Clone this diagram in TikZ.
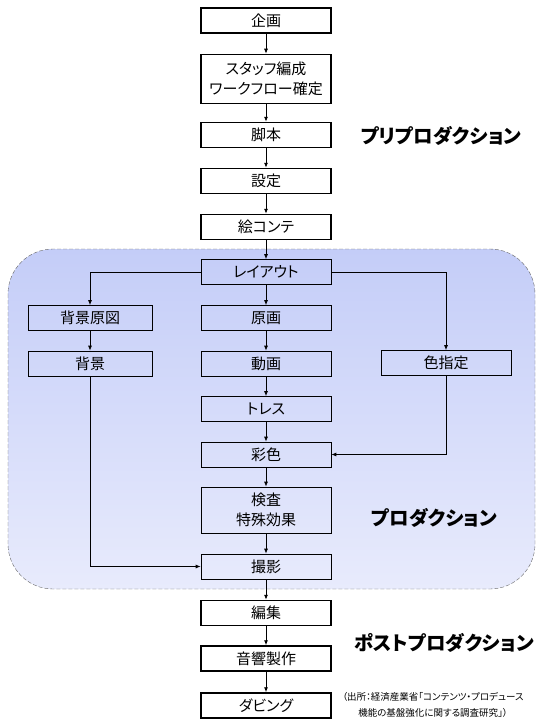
\documentclass[tikz,border=0pt]{standalone}
\usepackage[dvipsnames,svgnames]{xcolor}
\usepackage{fontspec}
\setmainfont{Noto Sans CJK JP}[RawFeature=+palt]
\usetikzlibrary{arrows.meta}
\definecolor{prodtop}{RGB}{196,205,248}
\definecolor{prodbot}{RGB}{232,235,252}
\tikzset{
  stagebox/.style={draw,line width=1.5pt,fill=white,minimum width=130pt,minimum height=25pt,
    inner sep=0pt,align=center,font=\fontsize{15}{20}\selectfont},
  prodbox/.style={stagebox,line width=0.7pt,fill=none},
  flow/.style={-{Latex[length=5pt,width=4pt]},line width=0.8pt},
  phase/.style={font=\fontsize{19.5}{22}\selectfont\bfseries}
}
\begin{document}
\begin{tikzpicture}[x=1pt,y=-1pt]
  \useasboundingbox (0,0) rectangle (546,725);
  \draw[black!60,dash pattern=on 4pt off 2pt,top color=prodtop,bottom color=prodbot,rounded corners=45pt]
    (8,249) rectangle (535,589);
  \node[stagebox] (kikaku) at (266,20.5) {企画};
  \node[stagebox,minimum height=49pt] (staff) at (266,79) {スタッフ編成\\ワークフロー確定};
  \node[stagebox] (kyakuhon) at (266,135) {脚本};
  \node[stagebox] (settei) at (266,181) {設定};
  \node[stagebox] (ekonte) at (266,227) {絵コンテ};
  \node[prodbox] (layout) at (266,272) {レイアウト};
  \node[prodbox,minimum width=124pt] (haikeigenzu) at (90,318) {背景原図};
  \node[prodbox] (genga) at (266,318) {原画};
  \node[prodbox,minimum width=124pt] (haikei) at (90,363.5) {背景};
  \node[prodbox] (douga) at (266,363.5) {動画};
  \node[prodbox] (ironoshitei) at (446,363) {色指定};
  \node[prodbox] (toresu) at (266,409) {トレス};
  \node[prodbox] (saishoku) at (266,454.5) {彩色};
  \node[prodbox,minimum height=46pt] (kensa) at (266,510) {検査\\特殊効果};
  \node[prodbox] (satsuei) at (266,566.5) {撮影};
  \node[stagebox] (henshu) at (266,613) {編集};
  \node[stagebox] (onkyo) at (266,658.5) {音響製作};
  \node[stagebox] (dubbing) at (266,705.5) {ダビング};
  \node[phase] (preprod) at (441,136) {プリプロダクション};
  \node[phase] (prod) at (434,518) {プロダクション};
  \node[phase] (postprod) at (444,643) {ポストプロダクション};
  \node[font=\fontsize{9.5}{16}\selectfont,align=center] (source) at (433,705)
    {（出所：経済産業省「コンテンツ・プロデュース\\機能の基盤強化に関する調査研究」）};
  \foreach \a/\b in {kikaku/staff,staff/kyakuhon,kyakuhon/settei,settei/ekonte,ekonte/layout,
    layout/genga,genga/douga,douga/toresu,toresu/saishoku,saishoku/kensa,kensa/satsuei,
    satsuei/henshu,henshu/onkyo,onkyo/dubbing,haikeigenzu/haikei}
    \draw[flow] (\a) -- (\b);
  \draw[flow] (layout.west) -| (haikeigenzu);
  \draw[flow] (haikei) |- (satsuei);
  \draw[flow] (layout.east) -| (ironoshitei);
  \draw[flow] (ironoshitei) |- (saishoku);
\end{tikzpicture}
\end{document}
